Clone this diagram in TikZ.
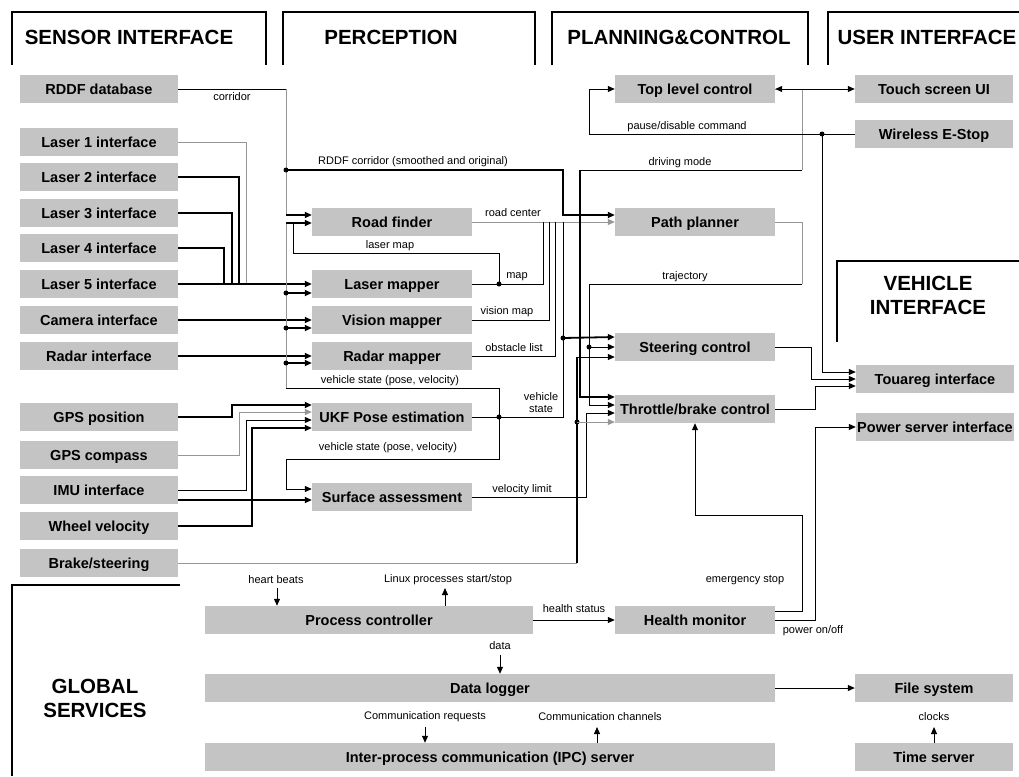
\documentclass[tikz,border=0pt]{standalone}
\usepackage{fontspec}
\setmainfont{Liberation Sans}
\usetikzlibrary{arrows.meta,calc}
\definecolor{boxg}{RGB}{196,196,196}
\definecolor{lineg}{RGB}{150,150,150}
\tikzset{
  box/.style={fill=boxg, minimum height=28pt, inner sep=0pt, text height=10.4pt, text depth=0pt, font=\fontsize{14.5}{17}\selectfont\bfseries},
  sbox/.style={box, minimum width=158pt},
  pbox/.style={box, minimum width=160pt},
  hdr/.style={font=\fontsize{20.5}{24}\selectfont\bfseries, align=center},
  lbl/.style={font=\fontsize{11}{12}\selectfont, inner sep=0pt},
  thk/.style={line width=1.8pt},
  thn/.style={line width=1pt},
  gln/.style={line width=1pt, draw=lineg},
  frame/.style={line width=2pt},
  dot/.style={circle, fill=black, inner sep=0pt, minimum size=5pt},
}
\begin{document}
\begin{tikzpicture}[x=1pt,y=-1pt,>={Triangle[length=7pt,width=6pt]}]
\useasboundingbox (0,0) rectangle (1019,776);

% section headers
\draw[frame] (12,65) -- (12,12) -- (266,12) -- (266,65);
\node[hdr] (hsens) at (129,37) {SENSOR INTERFACE};
\draw[frame] (283,65) -- (283,12) -- (535,12) -- (535,65);
\node[hdr] (hperc) at (391,37) {PERCEPTION};
\draw[frame] (552,65) -- (552,12) -- (808,12) -- (808,65);
\node[hdr] (hplan) at (679,37) {PLANNING\&CONTROL};
\draw[frame] (828,65) -- (828,12) -- (1019,12);
\node[hdr] (huser) at (927,37) {USER INTERFACE};
\draw[frame] (837,342) -- (837,261) -- (1019,261);
\node[hdr] (hveh) at (928,295) {VEHICLE\\INTERFACE};
\draw[frame] (180,585) -- (12,585) -- (12,776);
\node[hdr] (hglob) at (95,698) {GLOBAL\\SERVICES};

% sensor interface
\node[sbox] (rddf) at (99,89) {RDDF database};
\node[sbox] (l1) at (99,142) {Laser 1 interface};
\node[sbox] (l2) at (99,177) {Laser 2 interface};
\node[sbox] (l3) at (99,213) {Laser 3 interface};
\node[sbox] (l4) at (99,248) {Laser 4 interface};
\node[sbox] (l5) at (99,284) {Laser 5 interface};
\node[sbox] (cam) at (99,320) {Camera interface};
\node[sbox] (rad) at (99,356) {Radar interface};
\node[sbox] (gpsp) at (99,417) {GPS position};
\node[sbox] (gpsc) at (99,455) {GPS compass};
\node[sbox] (imu) at (99,490) {IMU interface};
\node[sbox] (wv) at (99,526) {Wheel velocity};
\node[sbox] (bs) at (99,563) {Brake/steering};

% perception
\node[pbox] (rf) at (392,222) {Road finder};
\node[pbox] (lm) at (392,284) {Laser mapper};
\node[pbox] (vm) at (392,320) {Vision mapper};
\node[pbox] (rm) at (392,356) {Radar mapper};
\node[pbox] (ukf) at (392,417) {UKF Pose estimation};
\node[pbox] (sa) at (392,497) {Surface assessment};

% planning & control
\node[pbox] (tlc) at (695,89) {Top level control};
\node[pbox] (pp) at (695,222) {Path planner};
\node[pbox] (sc) at (695,347) {Steering control};
\node[pbox] (thr) at (695,409) {Throttle/brake control};
\node[pbox] (hm) at (695,620) {Health monitor};

% user / vehicle interface
\node[sbox] (ts) at (934,89) {Touch screen UI};
\node[sbox] (es) at (934,134) {Wireless E-Stop};
\node[sbox] (tou) at (935,379) {Touareg interface};
\node[sbox] (psi) at (935,427) {Power server interface};
\node[sbox] (fs) at (934,688) {File system};
\node[sbox] (tsv) at (934,757) {Time server};

% global services
\node[box, minimum width=328pt] (pc) at (369,620) {Process controller};
\node[box, minimum width=570pt] (dl) at (490,688) {Data logger};
\node[box, minimum width=570pt] (ipc) at (490,757) {Inter-process communication (IPC) server};

% RDDF corridor
\draw[thn] (rddf.east) -- (286,89);
\draw[gln] (286,89) -- (286,215);
\draw[thk,->] (286,215) -- ($(rf.west)+(0,-7)$);
\node[lbl] (lcorr) at (232,97) {corridor};
\node[dot] (d1) at (286,170) {};
\draw[thk,->] (d1.center) -- (563,170) -- (563,215) -- ($(pp.west)+(0,-7)$);
\node[lbl] (lrddf) at (413,162) {RDDF corridor (smoothed and original)};

% lasers, camera, radar
\draw[gln] (l1.east) -| (246,284);
\draw[thk] (l2.east) -| (239,284);
\draw[thk] (l3.east) -| (232,284);
\draw[thk] (l4.east) -| (224,284);
\draw[thk,->] (l5.east) -- (lm.west);
\draw[thk,->] (cam.east) -- (vm.west);
\draw[thk,->] (rad.east) -- (rm.west);

% vehicle state distribution
\node[dot] (d2) at (499,417) {};
\draw[thn] (d2.center) -- (499,388) -- (286,388);
\draw[gln] (286,388) -- (286,223);
\draw[thk,->] (286,223) -- ($(rf.west)+(0,1)$);
\node[lbl] (lvs1) at (390,381) {vehicle state (pose, velocity)};
\node[dot] (d3) at (286,293) {};
\draw[thk,->] (d3.center) -- ($(lm.west)+(0,9)$);
\node[dot] (d4) at (286,328) {};
\draw[thk,->] (d4.center) -- ($(vm.west)+(0,8)$);
\node[dot] (d5) at (286,363) {};
\draw[thk,->] (d5.center) -- ($(rm.west)+(0,7)$);

% laser map
\node[dot] (d6) at (499,284) {};
\draw[thn] (d6.center) -- (499,253) -- (293,253) -- (293,223);
\node[lbl] (llm) at (390,246) {laser map};

% perception outputs
\draw[gln,->] (rf.east) -- (pp.west);
\node[lbl] (lrc) at (513,213) {road center};
\draw[thn] (lm.east) -- (543,284) -- (543,222);
\node[lbl] (lmap) at (517,277) {map};
\draw[thn] (vm.east) -| (549,222);
\node[lbl] (lvm) at (507,312) {vision map};
\draw[thn] (rm.east) -| (555,222);
\node[lbl] (lol) at (514,348) {obstacle list};

% UKF inputs
\draw[thk,->] (gpsp.east) -| (232,405) -- ($(ukf.west)+(0,-12)$);
\draw[gln,->] (gpsc.east) -| (239,412) -- ($(ukf.west)+(0,-5)$);
\draw[thn,->] (imu.east) -| (246,420) -- ($(ukf.west)+(0,3)$);
\draw[thk,->] (wv.east) -| (252,428) -- ($(ukf.west)+(0,11)$);
\draw[thk,->] ($(imu.east)+(0,10)$) -- ($(sa.west)+(0,3)$);

% UKF output
\draw[thn] (ukf.east) -- (563,417) -- (563,222);
\node[dot] (d7) at (563,338) {};
\draw[thk,->] (d7.center) -- ($(sc.west)+(0,-10)$);
\node[lbl, align=center] (lvs2) at (541,403) {vehicle\\state};

% surface assessment
\draw[thn,->] (d2.center) -- (499,459) -- (286,459) -- (286,489) -- ($(sa.west)+(0,-8)$);
\node[lbl] (lvs3) at (388,448) {vehicle state (pose, velocity)};
\draw[thn,->] (sa.east) -- (586,497) -- (586,413) -- ($(thr.west)+(0,4)$);
\node[lbl] (lvl) at (522,490) {velocity limit};

% brake/steering feedback
\draw[gln] (bs.east) -- (577,563);
\draw[thk] (577,563) -- (577,357);
\draw[thn,->] (577,357) -- ($(sc.west)+(0,10)$);
\node[dot] (d8) at (577,422) {};
\draw[gln,->] (d8.center) -- ($(thr.west)+(0,13)$);

% trajectory
\draw[gln] (pp.east) -- (802,222) -- (802,284);
\draw[thn,->] (802,284) -- (589,284) -- (589,405) -- ($(thr.west)+(0,-4)$);
\node[dot] (d9) at (589,347) {};
\draw[thn,->] (d9.center) -- (sc.west);
\node[lbl] (ltraj) at (685,277) {trajectory};

% driving mode
\draw[gln] (tlc.east) -- (802,89) -- (802,170);
\draw[thn] (802,170) -- (580,170);
\draw[thk,->] (580,170) -- (580,397) -- ($(thr.west)+(0,-12)$);
\node[lbl] (ldm) at (680,163) {driving mode};

% top level control, E-stop
\draw[thn,<->] (tlc.east) -- (ts.west);
\draw[thn,->] (es.west) -- (589,134) -- (589,89) -- (tlc.west);
\node[lbl] (lpause) at (687,127) {pause/disable command};
\node[dot] (d10) at (822,134) {};
\draw[thn,->] (d10.center) -- (822,372) -- ($(tou.west)+(0,-7)$);

% to Touareg
\draw[thn,->] (sc.east) -- (811,347) -- (811,379) -- (tou.west);
\draw[thn,->] (thr.east) -- (815,409) -- (815,386) -- ($(tou.west)+(0,7)$);

% health monitor
\draw[thn,->] ($(hm.east)+(0,-9)$) -- (802,611) -- (802,515) -- (695,515) -- (thr.south);
\node[lbl] (les) at (745,580) {emergency stop};
\draw[thn,->] (hm.east) -- (815,620) -- (815,427) -- (psi.west);
\node[lbl] (lpow) at (813,631) {power on/off};

% global services
\coordinate (hb) at (277,588);
\draw[thn,->] (hb) -- (hb |- pc.north);
\node[lbl] (lhb) at (276,580) {heart beats};
\coordinate (lx) at (445,588);
\draw[thn,->] (lx |- pc.north) -- (lx);
\node[lbl] (llx) at (448,580) {Linux processes start/stop};
\draw[thn,->] (pc.east) -- (hm.west);
\node[lbl] (lhs) at (574,609) {health status};
\coordinate (dt) at (500,655);
\draw[thn,->] (dt) -- (dt |- dl.north);
\node[lbl] (ldt) at (500,646) {data};
\draw[thn,->] (dl.east) -- (fs.west);
\coordinate (cr) at (425,727);
\draw[thn,->] (cr) -- (cr |- ipc.north);
\node[lbl] (lcr) at (425,717) {Communication requests};
\coordinate (cc) at (597,727);
\draw[thn,->] (cc |- ipc.north) -- (cc);
\node[lbl] (lcc) at (600,717) {Communication channels};
\coordinate (ck) at (934,727);
\draw[thn,->] (ck |- tsv.north) -- (ck);
\node[lbl] (lck) at (934,717) {clocks};
\end{tikzpicture}
\end{document}
